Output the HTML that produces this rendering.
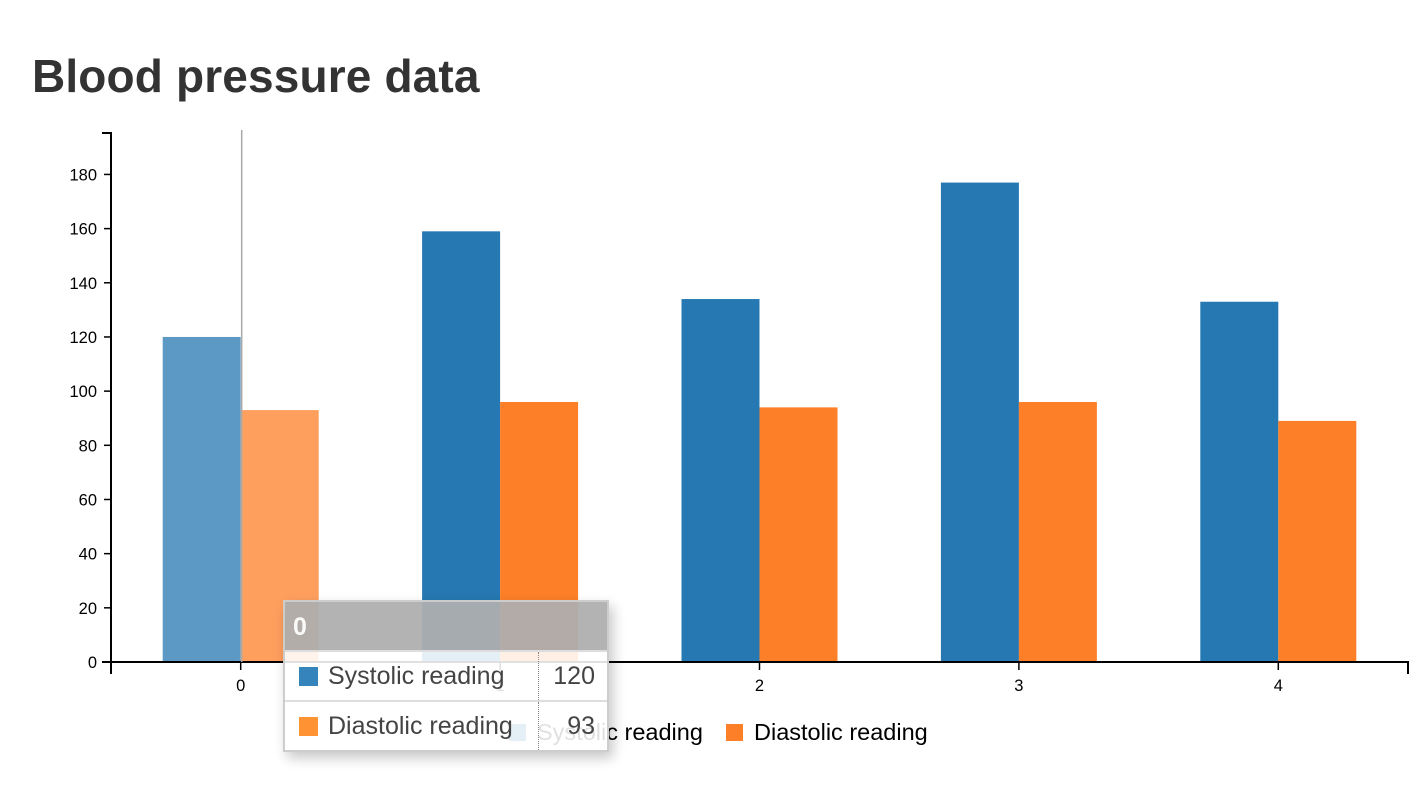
<!DOCTYPE html>
<html><head><meta charset="utf-8"><style>
body{margin:0;background:#fff;font-family:"Liberation Sans",Arial,sans-serif;}
#wrap{position:relative;width:1424px;height:792px;overflow:hidden;}
h1{position:absolute;left:32px;top:49px;margin:0;font-size:46px;font-weight:bold;color:#333;letter-spacing:0.15px;}
#tip{position:absolute;left:283px;top:600px;width:322px;border:2px solid rgba(200,200,200,0.9);background:rgba(255,255,255,0.88);box-shadow:4px 6px 12px rgba(0,0,0,0.22);font-size:25px;color:#444;}
#tip .hd{height:48px;background:rgba(110,110,110,0.52);color:rgba(255,255,255,0.92);font-weight:bold;line-height:50px;padding-left:8px;}
#tip .row{height:48px;border-top:2px solid #ddd;position:relative;line-height:48px;}
#tip .sw{position:absolute;left:14px;top:15px;width:19px;height:19px;}
#tip .nm{position:absolute;left:43px;}
#tip .val{position:absolute;left:253px;width:56px;text-align:right;border-left:1px dotted #888;height:48px;top:0;}
</style></head><body>
<div id="wrap">
<h1>Blood pressure data</h1>
<svg id="chart" width="1424" height="792" style="position:absolute;left:0;top:0"></svg>
<div id="tip">
<div class="hd">0</div>
<div class="row"><span class="sw" style="background:#1f77b4;opacity:.9"></span><span class="nm">Systolic reading</span><span class="val">120</span></div>
<div class="row"><span class="sw" style="background:#ff7f0e;opacity:.85"></span><span class="nm">Diastolic reading</span><span class="val">93</span></div>
</div>
</div>
<script>
const categories=["0","1","2","3","4"];
const systolic=[120,159,134,177,133];
const diastolic=[93,96,94,96,89];
const yTicks=[0,20,40,60,80,100,120,140,160,180];
const seriesNames=["Systolic reading","Diastolic reading"];
const NS="http://www.w3.org/2000/svg";
const svg=document.getElementById('chart');
const x0=111,x1=1408,yBase=662,yTop=133,yMax=195.3;
const y=v=>yBase-(v/yMax)*(yBase-yTop);
const band=(x1-x0)/categories.length;
const cx=i=>x0+band*(i+0.5);
function mk(t,a){const e=document.createElementNS(NS,t);for(const k in a)e.setAttribute(k,a[k]);svg.appendChild(e);return e;}
const colors=["#2678b2","#fd7f28"];
categories.forEach((c,i)=>{
  [systolic,diastolic].forEach((arr,s)=>{
    const r=mk('rect',{x:cx(i)-78+s*78,y:y(arr[i]),width:78,height:yBase-y(arr[i]),fill:colors[s],opacity:i===0?0.75:1});
    
    
  });
});
let ax=mk('path',{d:`M${x0-9},${yTop}H${x0}V${yBase}H${x0-9}`,stroke:'#000','stroke-width':2,fill:'none'});

yTicks.forEach(t=>{
  mk('line',{x1:x0-7,x2:x0,y1:y(t),y2:y(t),stroke:'#000','stroke-width':1.5});
  const tx=mk('text',{x:x0-14,y:y(t)+6,'text-anchor':'end','font-size':16.5,fill:'#000','font-family':'Liberation Sans, sans-serif'});
  tx.textContent=t;
  
});
let xa=mk('path',{d:`M${x0},${yBase+12}V${yBase}H${x1}V${yBase+12}`,stroke:'#000','stroke-width':2,fill:'none'});

categories.forEach((c,i)=>{
  mk('line',{x1:cx(i),x2:cx(i),y1:yBase,y2:yBase+8,stroke:'#000','stroke-width':1.5});
  const tx=mk('text',{x:cx(i),y:yBase+29,'text-anchor':'middle','font-size':16.5,fill:'#000','font-family':'Liberation Sans, sans-serif'});
  tx.textContent=c;
  
});
let hl=mk('line',{x1:cx(0)+1,x2:cx(0)+1,y1:130,y2:yBase,stroke:'#aaa','stroke-width':1.5});

const lx=[509,726];
seriesNames.forEach((n,s)=>{
  const r=mk('rect',{x:lx[s],y:724,width:17,height:17,fill:colors[s]});
  
  const t=mk('text',{x:lx[s]+28,y:740,'font-size':23.5,fill:'#000','font-family':'Liberation Sans, sans-serif'});
  t.textContent=n;
  
});
</script>
</body></html>
